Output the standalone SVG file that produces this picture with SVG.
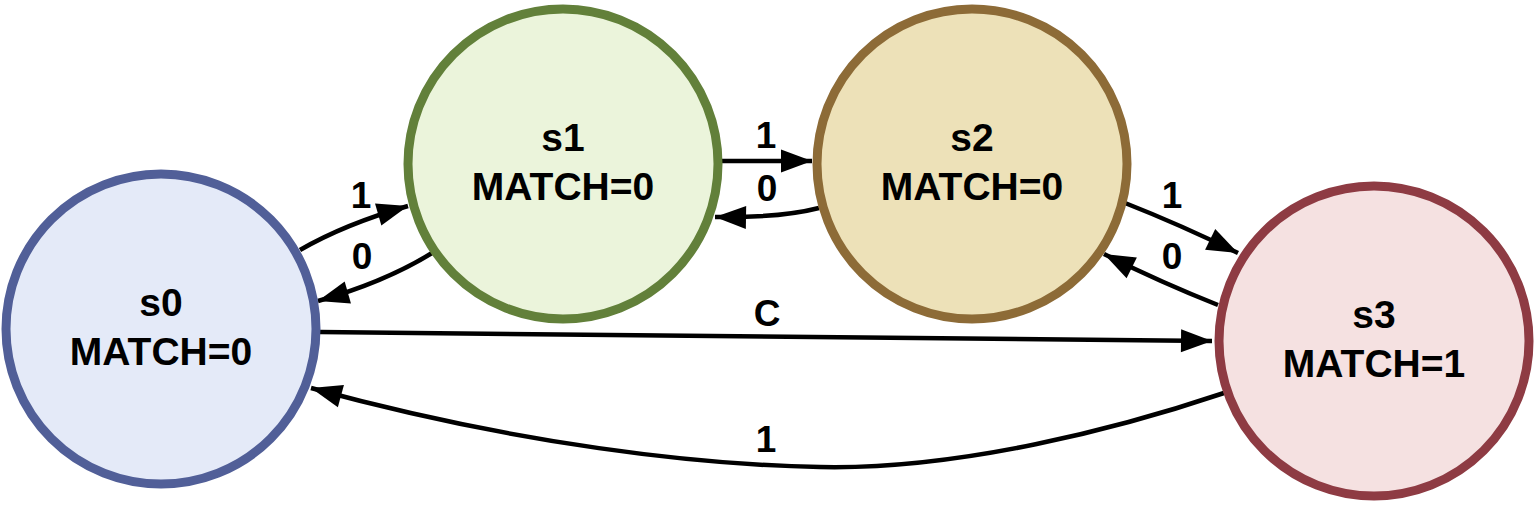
<svg xmlns="http://www.w3.org/2000/svg" width="1539" height="508" viewBox="0 0 1539 508">
<style>
.node circle{stroke-width:9}
.nt{font-family:"Liberation Sans",Arial,sans-serif;font-weight:bold;font-size:39px;text-anchor:middle;fill:#000}
.lbl{font-family:"Liberation Sans",Arial,sans-serif;font-weight:bold;font-size:37px;text-anchor:middle;fill:#000}
.edge{fill:none;stroke:#000;stroke-width:4.5}
</style>
<defs>
<marker id="arr" markerUnits="userSpaceOnUse" markerWidth="32" markerHeight="24" refX="31" refY="11.5" orient="auto" overflow="visible">
<path d="M0,0 L31,11.5 L0,23 Z" fill="#000"/>
</marker>
</defs>
<rect width="1539" height="508" fill="#fff"/>
<g id="connectors">
<path class="edge" d="M300,250 Q345,224 408,206" marker-end="url(#arr)"/>
<path class="edge" d="M432,253 Q385,282 318,301" marker-end="url(#arr)"/>
<path class="edge" d="M722,161 L812,161" marker-end="url(#arr)"/>
<path class="edge" d="M819,208 Q780,218 715,217" marker-end="url(#arr)"/>
<path class="edge" d="M1125,203 Q1181,225 1238,253" marker-end="url(#arr)"/>
<path class="edge" d="M1218,305 Q1160,282 1104,254" marker-end="url(#arr)"/>
<path class="edge" d="M320,332 L1212,341" marker-end="url(#arr)"/>
<path class="edge" d="M1224,393 C1120,428 960,470 820,467 C700,465 520,445 311,388" marker-end="url(#arr)"/>
<text class="lbl" x="361" y="208">1</text>
<text class="lbl" x="362" y="269">0</text>
<text class="lbl" x="766" y="148">1</text>
<text class="lbl" x="767" y="201">0</text>
<text class="lbl" x="1172" y="208">1</text>
<text class="lbl" x="1172" y="269">0</text>
<text class="lbl" x="767" y="326">C</text>
<text class="lbl" x="766" y="452">1</text>
</g>
<g id="s0" class="node">
<circle cx="161" cy="329" r="155" fill="#E4EAF8" stroke="#515F98"/>
<text class="nt" x="161" y="316">s0</text>
<text class="nt" x="161" y="365">MATCH=0</text>
</g>
<g id="s1" class="node">
<circle cx="563" cy="164" r="155" fill="#EBF4DB" stroke="#62803A"/>
<text class="nt" x="563" y="151">s1</text>
<text class="nt" x="563" y="200">MATCH=0</text>
</g>
<g id="s2" class="node">
<circle cx="972" cy="164" r="155" fill="#EDE1B8" stroke="#8D6B37"/>
<text class="nt" x="972" y="151">s2</text>
<text class="nt" x="972" y="200">MATCH=0</text>
</g>
<g id="s3" class="node">
<circle cx="1374" cy="341" r="155" fill="#F5E1E1" stroke="#8E3B43"/>
<text class="nt" x="1374" y="328">s3</text>
<text class="nt" x="1374" y="377">MATCH=1</text>
</g>
</svg>
